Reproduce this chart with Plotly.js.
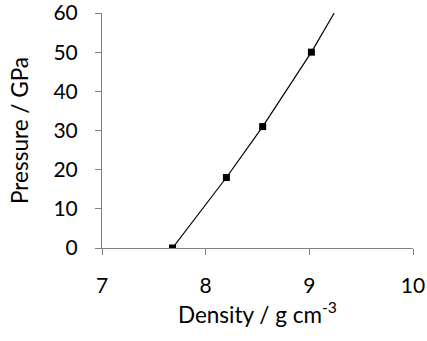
<!DOCTYPE html>
<html>
<head>
<meta charset="utf-8">
<script src="https://cdn.plot.ly/plotly-3.0.1.min.js"></script>
<style>
  html, body { margin: 0; padding: 0; background: #fff; }
  #chart { width: 427px; height: 341px; }
</style>
</head>
<body>
<div id="chart"></div>
<script>
// Measured density vs pressure
var density = [7.68, 8.2, 8.55, 9.02];
var pressure = [0, 18, 31, 50];

// Fitted curve through the measurements, extended to 60 GPa
var fitDensity = [7.68, 8.2, 8.55, 9.02, 9.24];
var fitPressure = [0, 18, 31, 50, 60];

var xTicks = [7, 8, 9, 10];
var yTicks = [0, 10, 20, 30, 40, 50, 60];

var fontFamily = 'Lato, "Open Sans", sans-serif';

var traces = [
  {
    x: fitDensity, y: fitPressure,
    mode: 'lines', type: 'scatter',
    line: { color: '#000', width: 1.2 },
    hoverinfo: 'skip', showlegend: false
  },
  {
    x: density, y: pressure,
    mode: 'markers', type: 'scatter',
    marker: { symbol: 'square', size: 7, color: '#000' },
    showlegend: false
  }
];

var layout = {
  width: 427, height: 341,
  margin: { l: 102, r: 14, t: 13, b: 93 },
  paper_bgcolor: '#fff', plot_bgcolor: '#fff',
  font: { family: fontFamily, size: 21, color: '#000' },
  showlegend: false,
  xaxis: {
    range: [7, 10],
    tickvals: xTicks,
    ticks: 'outside', ticklen: 6, tickcolor: '#808080', tickwidth: 1,
    ticklabelstandoff: 13,
    ticklabeloverflow: 'allow',
    showline: true, linecolor: '#808080', linewidth: 1,
    showgrid: false, zeroline: false,
    tickfont: { family: fontFamily, size: 21, color: '#000' },
    title: { text: 'Density / g cm<sup>-3</sup>', standoff: 10,
             font: { family: fontFamily, size: 22.5, color: '#000' } }
  },
  yaxis: {
    range: [0, 60],
    tickvals: yTicks,
    ticks: 'outside', ticklen: 6, tickcolor: '#808080', tickwidth: 1,
    ticklabelstandoff: 13,
    ticklabeloverflow: 'allow',
    showline: true, linecolor: '#808080', linewidth: 1,
    showgrid: false, zeroline: false,
    tickfont: { family: fontFamily, size: 21, color: '#000' },
    title: { text: 'Pressure / GPa', standoff: 18,
             font: { family: fontFamily, size: 22.5, color: '#000' } }
  }
};

Plotly.newPlot('chart', traces, layout, { displayModeBar: false, staticPlot: true });
</script>
</body>
</html>
